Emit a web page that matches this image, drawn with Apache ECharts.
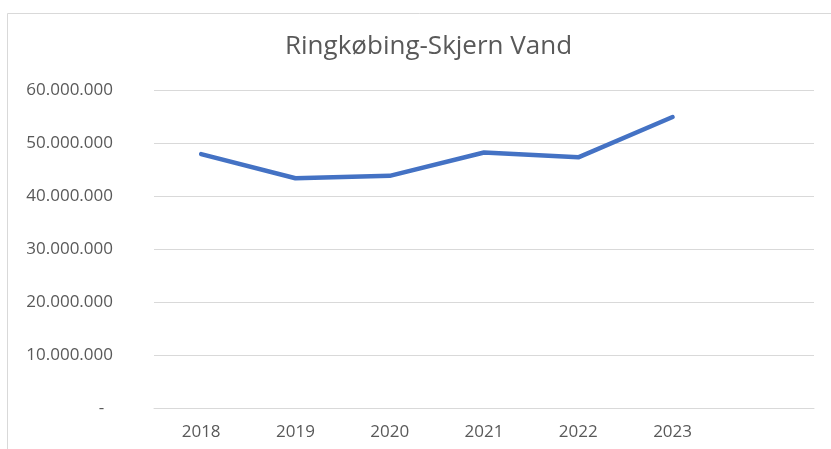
<!DOCTYPE html>
<html>
<head>
<meta charset="utf-8">
<script src="https://cdn.jsdelivr.net/npm/echarts@6/dist/echarts.min.js"></script>
<style>
html,body{margin:0;padding:0;background:#fff;}
#c{width:831px;height:449px;}
</style>
</head>
<body>
<div id="c"></div>
<script>
const titleText = 'Ringkøbing-Skjern Vand';
const categories = ['2018', '2019', '2020', '2021', '2022', '2023', ''];
const values = [47900000, 43350000, 43800000, 48200000, 47300000, 54900000, null];
const yTicks = [0, 10000000, 20000000, 30000000, 40000000, 50000000, 60000000];

const fontFamily = '"Open Sans", "Liberation Sans", sans-serif';
function fmt(v) {
  if (v === 0) return '-  ';
  return String(Math.round(v)).replace(/\B(?=(\d{3})+(?!\d))/g, '.');
}

const chart = echarts.init(document.getElementById('c'), null, {renderer: 'canvas'});
chart.setOption({
  animation: false,
  backgroundColor: '#ffffff',
  graphic: [{
    type: 'rect',
    left: 5, top: 11,
    shape: {width: 900, height: 500},
    style: {fill: 'none', stroke: '#D9D9D9', lineWidth: 1},
    silent: true
  }],
  title: {
    text: titleText,
    left: 280,
    top: 29,
    textStyle: {fontFamily: fontFamily, fontSize: 26, fontWeight: 'normal', color: '#595959'}
  },
  grid: {left: 154, right: 17, top: 90, bottom: 41, containLabel: false},
  xAxis: {
    type: 'category',
    data: categories,
    boundaryGap: true,
    axisLine: {show: true, lineStyle: {color: '#D9D9D9', width: 1}},
    axisTick: {show: false},
    axisLabel: {color: '#595959', fontFamily: fontFamily, fontSize: 17, margin: 16}
  },
  yAxis: {
    type: 'value',
    min: yTicks[0],
    max: yTicks[yTicks.length - 1],
    interval: yTicks[1] - yTicks[0],
    axisLine: {show: false},
    axisTick: {show: false},
    splitLine: {lineStyle: {color: '#D9D9D9', width: 1}},
    axisLabel: {color: '#595959', fontFamily: fontFamily, fontSize: 17, margin: 41, formatter: fmt}
  },
  series: [{
    type: 'line',
    data: values,
    showSymbol: false,
    symbol: 'none',
    connectNulls: false,
    lineStyle: {color: '#4472C4', width: 4.5, cap: 'round', join: 'round'},
    itemStyle: {color: '#4472C4'}
  }]
});
</script>
</body>
</html>
